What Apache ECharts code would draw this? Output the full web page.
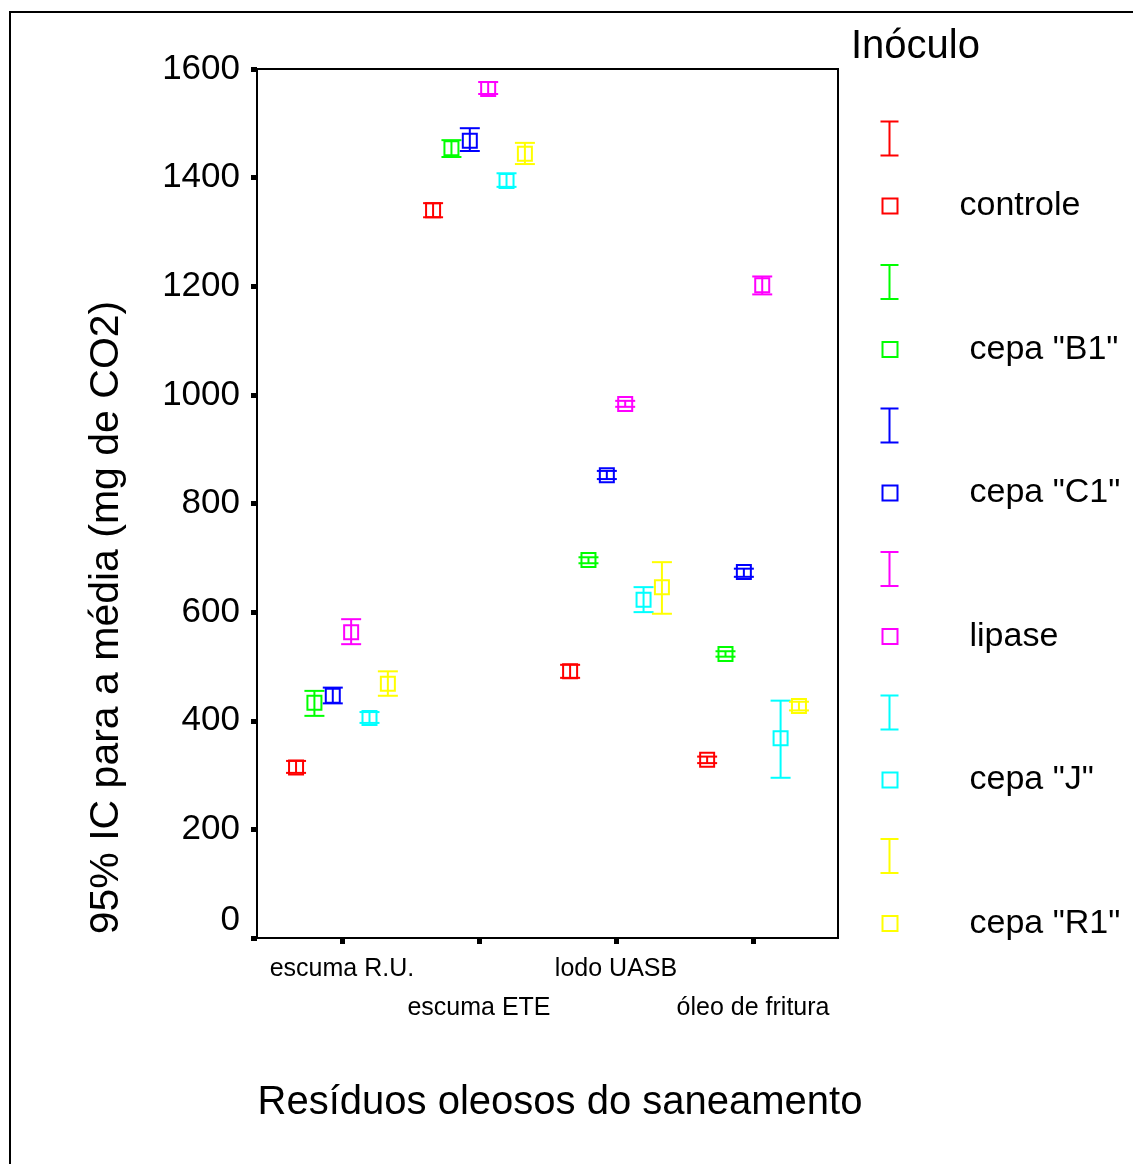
<!DOCTYPE html>
<html>
<head>
<meta charset="utf-8">
<title>Inóculo</title>
<script src="https://cdn.jsdelivr.net/npm/echarts@6.0.0/dist/echarts.min.js"></script>
<style>
  html, body { margin: 0; padding: 0; background: #fff; }
  #chart { width: 1133px; height: 1164px; }
</style>
</head>
<body>
<div id="chart"></div>
<script>
// residuos (eixo x)
const categories = ['escuma R.U.', 'escuma ETE', 'lodo UASB', 'óleo de fritura'];
// inoculos (legenda)
const inoculos = ['controle', 'cepa "B1"', 'cepa "C1"', 'lipase', 'cepa "J"', 'cepa "R1"'];
const colors = ['#ff0000', '#00ff00', '#0000ff', '#ff00ff', '#00ffff', '#ffff00'];

// media e IC 95% (mg de CO2), uma linha por inoculo, uma coluna por residuo
const means = [
  [314, 1340, 491, 328],
  [433, 1454, 696, 523],
  [446, 1468, 852, 674],
  [563, 1563, 983, 1202],
  [405, 1394, 623, 368],
  [468, 1444, 646, 427]
];
const lower = [
  [304, 1327, 479, 322],
  [409, 1438, 690, 518],
  [432, 1449, 845, 665],
  [541, 1554, 978, 1185],
  [396, 1383, 600, 295],
  [446, 1425, 597, 419]
];
const upper = [
  [326, 1353, 503, 334],
  [455, 1469, 701, 528],
  [461, 1491, 860, 680],
  [587, 1576, 989, 1218],
  [416, 1408, 646, 437],
  [491, 1464, 692, 435]
];
const yTicks = [0, 200, 400, 600, 800, 1000, 1200, 1400, 1600];

const chart = echarts.init(document.getElementById('chart'));
const font = '"Liberation Sans", Arial, sans-serif';
const step = 0.134; // distancia entre inoculos dentro de cada residuo
const catPos = categories.map(function (c, j) { return j + 1; });

function renderBar(params, api) {
  const x = api.value(0);
  const pm = api.coord([x, api.value(1)]);
  const plo = api.coord([x, api.value(2)]);
  const phi = api.coord([x, api.value(3)]);
  const c = api.visual('color');
  const st = { stroke: c, lineWidth: 2, fill: null };
  const cap = 10;
  const box = 14;
  return {
    type: 'group',
    children: [
      { type: 'line', shape: { x1: pm[0], y1: phi[1], x2: pm[0], y2: plo[1] }, style: st },
      { type: 'line', shape: { x1: pm[0] - cap, y1: phi[1], x2: pm[0] + cap, y2: phi[1] }, style: st },
      { type: 'line', shape: { x1: pm[0] - cap, y1: plo[1], x2: pm[0] + cap, y2: plo[1] }, style: st },
      { type: 'rect', shape: { x: pm[0] - box / 2, y: pm[1] - box / 2, width: box, height: box }, style: st }
    ]
  };
}

const series = inoculos.map(function (name, i) {
  const data = categories.map(function (cat, j) {
    return [catPos[j] + (i - 2.5) * step, means[i][j], lower[i][j], upper[i][j]];
  });
  return {
    name: name,
    type: 'custom',
    xAxisIndex: 0,
    renderItem: renderBar,
    itemStyle: { color: colors[i] },
    encode: { x: 0, y: [1, 2, 3] },
    data: data,
    silent: true
  };
});

function catLabel(v) {
  return categories[Math.round(v) - 1];
}

const option = {
  animation: false,
  backgroundColor: '#fff',
  textStyle: { fontFamily: font },
  title: {
    text: 'Inóculo',
    left: 851,
    top: 27,
    padding: 0,
    textStyle: { fontSize: 40, fontWeight: 'normal', color: '#000', fontFamily: font }
  },
  graphic: [{
    type: 'rect',
    shape: { x: 10, y: 12, width: 1200, height: 1200 },
    style: { fill: null, stroke: '#000', lineWidth: 2 },
    silent: true
  }],
  legend: [{
    orient: 'vertical',
    left: 878,
    top: 119,
    padding: 0,
    itemWidth: 18,
    itemHeight: 34,
    itemGap: 104.5,
    selectedMode: false,
    formatter: function () { return ''; },
    textStyle: { fontSize: 10 },
    data: inoculos.map(function (name, i) {
      return {
        name: name,
        icon: 'path://M0,0H18M9,0V34M0,34H18',
        itemStyle: { color: 'none', borderColor: colors[i], borderWidth: 2 }
      };
    })
  }, {
    orient: 'vertical',
    left: 880,
    top: 188,
    padding: 0,
    itemWidth: 15,
    itemHeight: 15,
    itemGap: 107.5,
    selectedMode: false,
    textStyle: { fontSize: 34, lineHeight: 36, color: '#000', fontFamily: font },
    data: inoculos.map(function (name, i) {
      return {
        name: name,
        icon: 'rect',
        itemStyle: { color: 'none', borderColor: colors[i], borderWidth: 2 },
        textStyle: { padding: [0, 0, 0, i === 0 ? 57 : 67] }
      };
    })
  }],
  grid: {
    left: 257,
    top: 69,
    right: 295,
    bottom: 226,
    show: true,
    borderColor: '#000',
    borderWidth: 2
  },
  xAxis: [{
    type: 'value',
    position: 'bottom',
    min: 0.38,
    max: 4.62,
    name: 'Resíduos oleosos do saneamento',
    nameLocation: 'middle',
    nameGap: 145,
    nameTextStyle: { fontSize: 40, color: '#000', padding: [0, 0, 0, 25], fontFamily: font },
    splitLine: { show: false },
    axisLine: { lineStyle: { color: '#000', width: 2 } },
    axisTick: {
      customValues: catPos,
      length: 6,
      lineStyle: { color: '#000', width: 5 }
    },
    axisLabel: {
      // primeira linha de rotulos
      customValues: catPos.filter(function (v) { return v % 2 === 1; }),
      margin: 19,
      fontSize: 25,
      color: '#000',
      fontFamily: font,
      showMinLabel: true,
      showMaxLabel: true,
      formatter: catLabel
    }
  }, {
    type: 'value',
    position: 'bottom',
    min: 0.38,
    max: 4.62,
    splitLine: { show: false },
    axisLine: { show: false },
    axisTick: { show: false },
    axisLabel: {
      // segunda linha de rotulos
      customValues: catPos.filter(function (v) { return v % 2 === 0; }),
      margin: 58,
      fontSize: 25,
      color: '#000',
      fontFamily: font,
      showMinLabel: true,
      showMaxLabel: true,
      formatter: catLabel
    }
  }],
  yAxis: {
    type: 'value',
    min: 0,
    max: 1600,
    interval: 200,
    name: '95% IC para a média (mg de CO2)',
    nameLocation: 'middle',
    nameGap: 130,
    nameTextStyle: { fontSize: 41, color: '#000', padding: [0, 228, 0, 0], fontFamily: font },
    splitLine: { show: false },
    axisLine: { lineStyle: { color: '#000', width: 2 } },
    axisTick: { length: 6, lineStyle: { color: '#000', width: 5 } },
    axisLabel: {
      margin: 17,
      fontSize: 35,
      color: '#000',
      fontFamily: font,
      formatter: function (v) {
        return yTicks.indexOf(v) === 0 ? '{z|' + v + '}' : String(v);
      },
      rich: { z: { fontSize: 35, padding: [0, 0, 36, 0] } }
    }
  },
  series: series
};

chart.setOption(option);
</script>
</body>
</html>
